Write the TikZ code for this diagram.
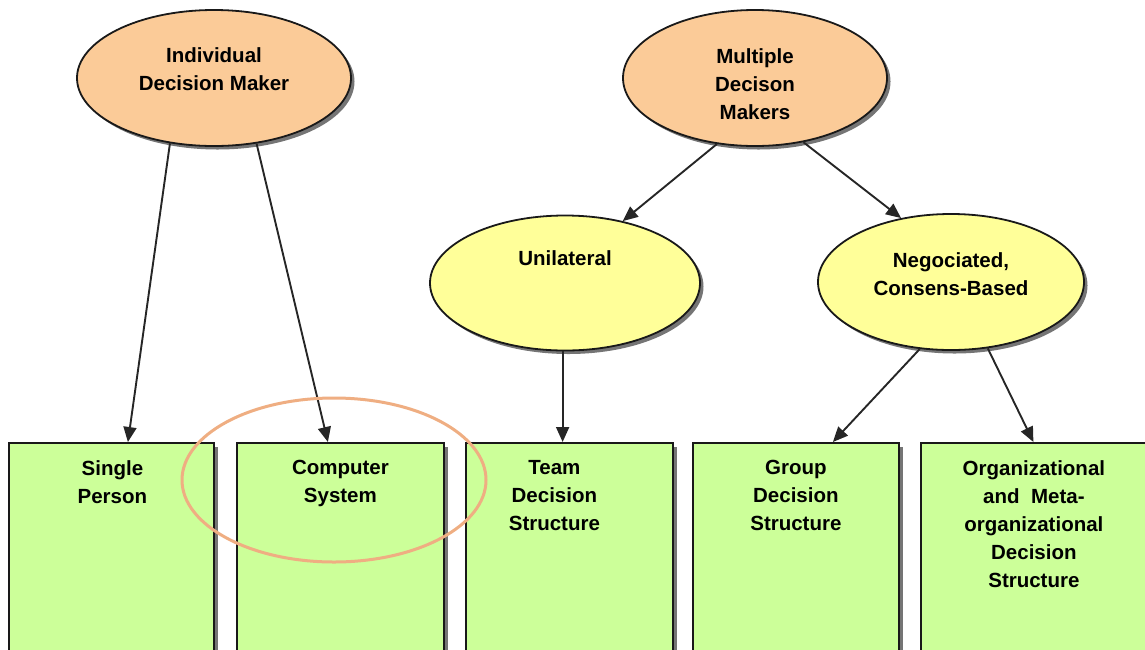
\documentclass[tikz,border=0pt]{standalone}
\usepackage{fontspec}
\setmainfont{Liberation Sans}
\usetikzlibrary{shadows,arrows.meta,calc,shapes.geometric}
\definecolor{orfill}{HTML}{FBCB98}
\definecolor{yefill}{HTML}{FFFF99}
\definecolor{grfill}{HTML}{CCFF99}
\definecolor{hlcol}{HTML}{EFAE82}
\tikzset{
  txt/.style={font=\bfseries\fontsize{20.5}{28}\selectfont, align=center, text=black},
  ell/.style={ellipse, draw=black!90, line width=1.8pt, inner sep=0pt,
    drop shadow={shadow xshift=3.5pt, shadow yshift=-3.5pt, fill=black!60, opacity=0.9}},
  orell/.style={ell, fill=orfill},
  yeell/.style={ell, fill=yefill},
  gbox/.style={rectangle, draw=black!90, line width=1.8pt, fill=grfill, inner sep=0pt,
    drop shadow={shadow xshift=4pt, shadow yshift=-4pt, fill=black!60, opacity=0.9}},
  conn/.style={-{Triangle[length=15pt,width=13pt]}, line width=1.9pt, black!85},
  hl/.style={draw=hlcol, line width=3pt}
}
\begin{document}
\begin{tikzpicture}[x=1pt,y=-1pt]
\useasboundingbox (0,0) rectangle (1145,649);
% ellipses
\node[orell, minimum width=274pt, minimum height=136pt,
  label={[txt, yshift=9pt]center:Individual\\Decision Maker}] (idm) at (214,78) {};
\node[orell, minimum width=264pt, minimum height=136pt,
  label={[txt, yshift=-6pt]center:Multiple\\Decison\\Makers}] (mdm) at (755,78) {};
\node[yeell, minimum width=270pt, minimum height=135pt,
  label={[txt, yshift=25pt]center:Unilateral}] (uni) at (565,283) {};
\node[yeell, minimum width=266pt, minimum height=136pt,
  label={[txt, yshift=8pt]center:Negociated,\\Consens-Based}] (neg) at (951,282) {};
% boxes
\node[gbox, minimum width=205pt, minimum height=210pt, anchor=north west,
  label={[txt, anchor=north, yshift=-15pt, xshift=1pt]north:Single\\Person}] (sp) at (8,442) {};
\node[gbox, minimum width=207pt, minimum height=210pt, anchor=north west,
  label={[txt, anchor=north, yshift=-15pt]north:Computer\\System}] (cs) at (236,442) {};
\node[gbox, minimum width=207pt, minimum height=210pt, anchor=north west,
  label={[txt, anchor=north, yshift=-15pt, xshift=-15pt]north:Team\\Decision\\Structure}] (team) at (465,442) {};
\node[gbox, minimum width=206pt, minimum height=210pt, anchor=north west,
  label={[txt, anchor=north, yshift=-15pt]north:Group\\Decision\\Structure}] (grp) at (692,442) {};
\node[gbox, minimum width=226pt, minimum height=210pt, anchor=north west,
  label={[txt, anchor=north, yshift=-15pt]north:Organizational\\and\ \ Meta-\\organizational\\Decision\\Structure}] (org) at (920,442) {};
% connectors
\draw[conn] (idm.236.7) -- ([xshift=16.5pt]sp.north);
\draw[conn] (idm.303.3) -- ([xshift=-12.5pt]cs.north);
\draw[conn] (mdm.240.3) -- (uni.47.2);
\draw[conn] (mdm.307.1) -- (neg.128);
\draw[conn] (uni.268) -- (uni.268 |- team.north);
\draw[conn] (neg.245.5) -- ([xshift=37pt]grp.north);
\draw[conn] (neg.299.1) -- ([xshift=-0.5pt]org.north);
% highlight
\draw[hl] (334,480) ellipse [x radius=152, y radius=82];
\end{tikzpicture}
\end{document}
